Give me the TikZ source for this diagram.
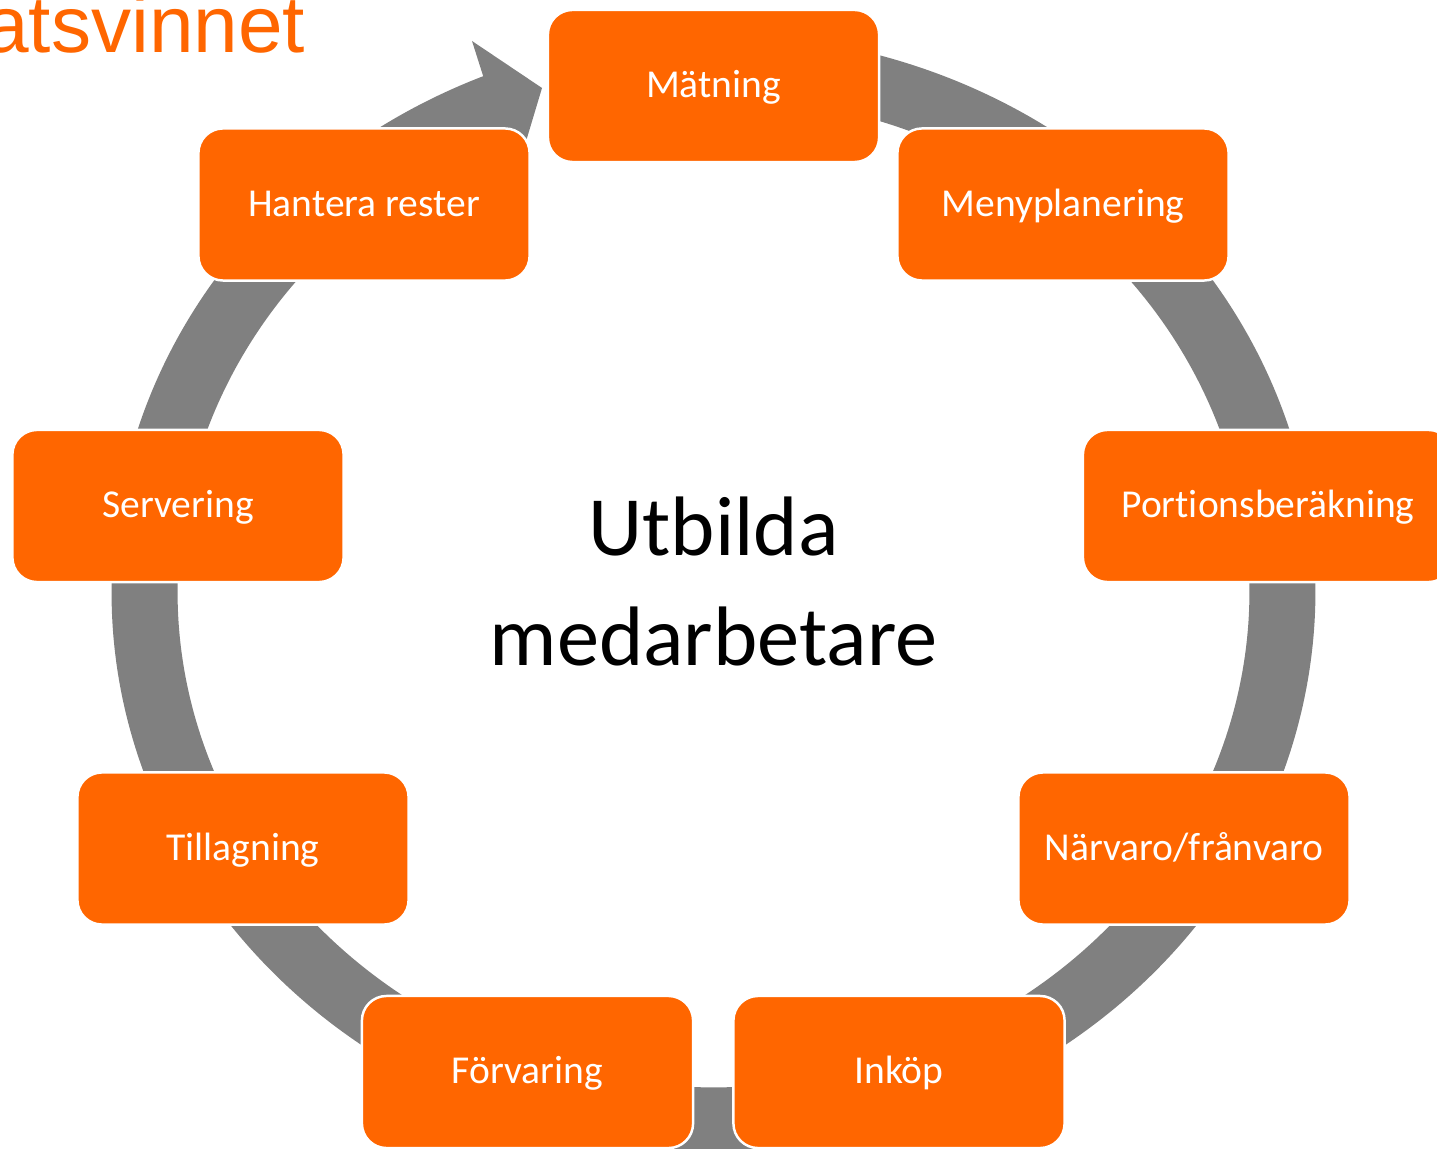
\documentclass[tikz,border=0pt]{standalone}
\usepackage{fontspec}
\setmainfont{Carlito}[Ligatures={NoCommon}]
\newfontfamily\titlefont{Liberation Sans}
\usetikzlibrary{calc}
\definecolor{orng}{HTML}{FF6600}
\definecolor{ringgray}{HTML}{808080}
\begin{document}
\begin{tikzpicture}[x=0.01cm,y=0.01cm,
  stepbox/.style={draw=white, line width=0.7pt, fill=orng, rounded corners=7pt,
    minimum width=3.31cm, minimum height=1.52cm, inner sep=0pt, text=white,
    font=\fontsize{11.24}{13.5}\selectfont, text height=9pt, text depth=2.4pt},
  centertext/.style={anchor=base, inner sep=0pt, text=black,
    font=\fontsize{24}{31}\selectfont}]
\useasboundingbox (0,0) rectangle (1437,1148);
\clip (0,0) rectangle (1437,1148);
% ring with arrow head
\coordinate (C) at (713.5,556);
\coordinate (B1) at (472,1107);
\coordinate (T) at (542,1060);
\coordinate (B2) at (515,970);
\fill[ringgray] ($(C)+(81:6.015cm and 5.58cm)$)
  arc[start angle=81, end angle=-247.5, x radius=6.015cm, y radius=5.58cm]
  -- (B1) -- (T) -- (B2)
  -- ($(C)+(-246.75:5.355cm and 4.95cm)$)
  arc[start angle=-246.75, end angle=81, x radius=5.355cm, y radius=4.95cm]
  -- cycle;
% title fragment
\node[anchor=base east, inner sep=0pt, text=orng,
  font=\titlefont\fontsize{22.8}{27}\selectfont] (title) at (306,1095) {atsvinnet};
% boxes
\node[stepbox] (matning) at (713.5,1062) {Mätning};
\node[stepbox] (meny) at (1063,943.5) {Menyplanering};
\node[stepbox, minimum width=3.7cm] (portion) at (1268,642) {Portionsberäkning};
\node[stepbox] (narvaro) at (1184,299.5) {Närvaro/frånvaro};
\node[stepbox] (inkop) at (899,76) {Inköp};
\node[stepbox] (forvaring) at (527.5,76) {Förvaring};
\node[stepbox] (tillagning) at (243,299.5) {Tillagning};
\node[stepbox] (servering) at (178,642) {Servering};
\node[stepbox] (hantera) at (364,943.5) {Hantera rester};
% centre text
\node[centertext] (utbilda) at (713.5,593) {Utbilda};
\node[centertext] (medarb) at (713.5,483) {medarbetare};
\end{tikzpicture}
\end{document}
